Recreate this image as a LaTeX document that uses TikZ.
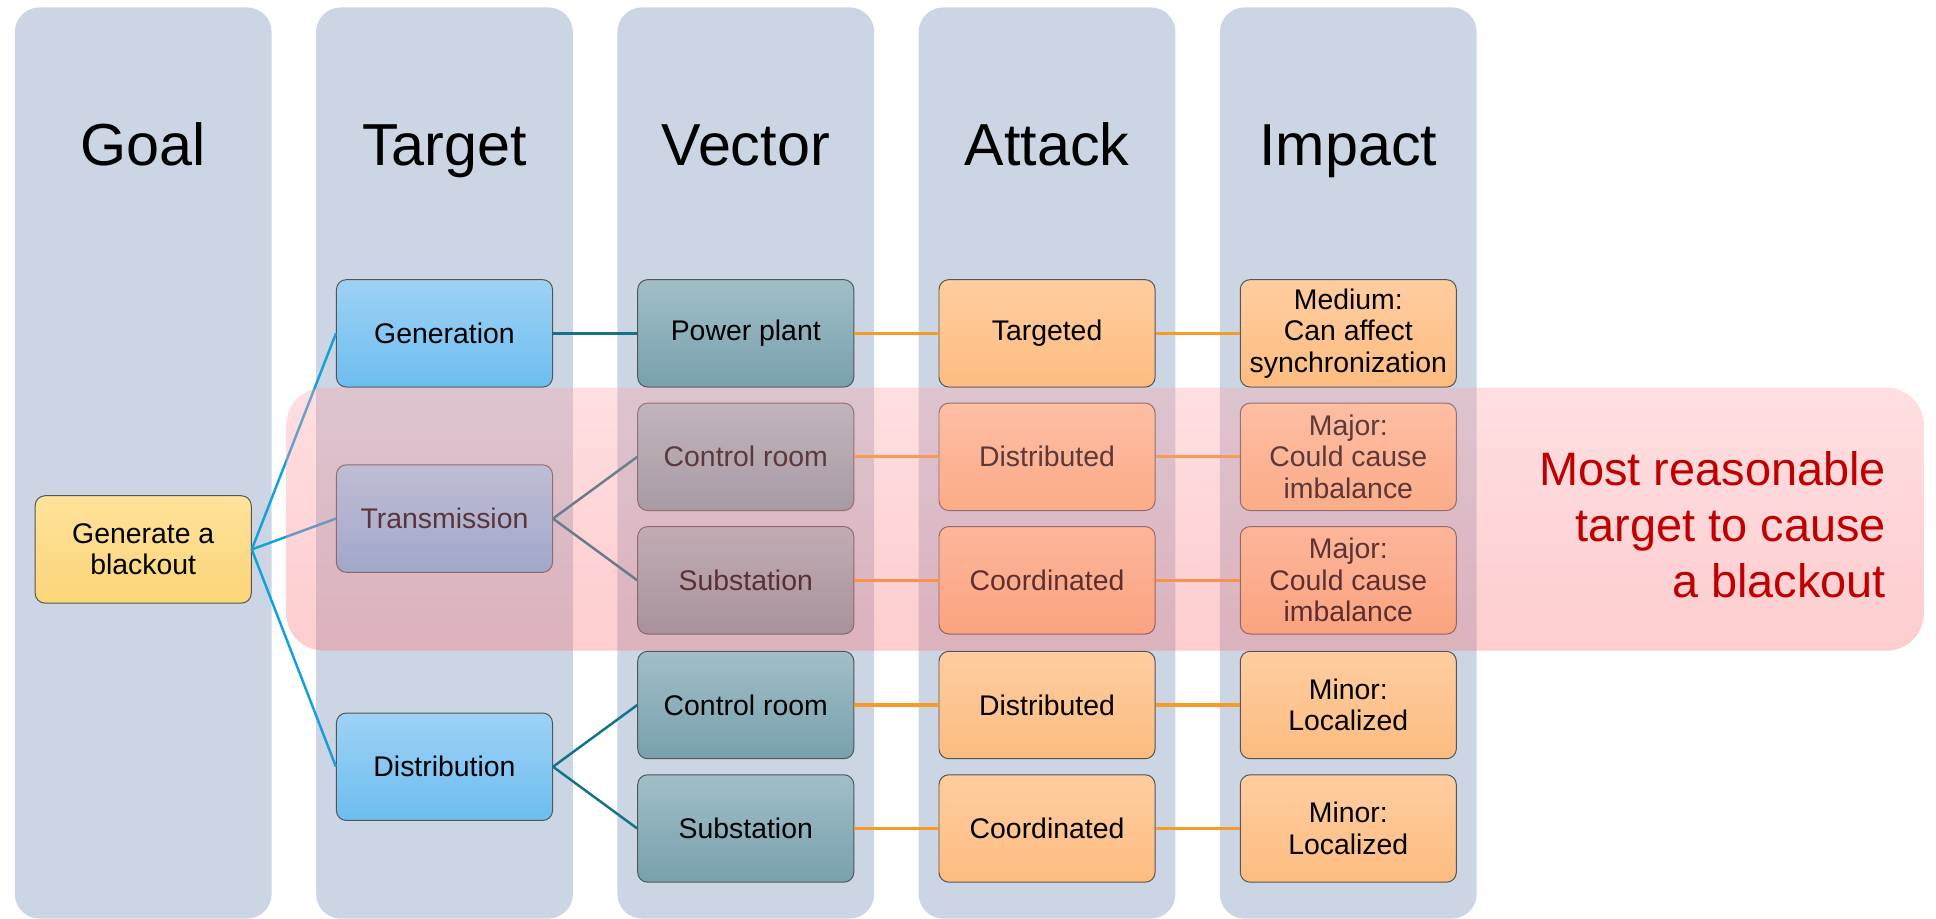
\documentclass[tikz,border=0pt]{standalone}
\usepackage{fontspec}
\setmainfont{Liberation Sans}
\definecolor{lanefill}{RGB}{203,213,227}
\definecolor{boxline}{RGB}{85,85,85}
\definecolor{goalT}{RGB}{255,226,155}
\definecolor{goalB}{RGB}{251,213,120}
\definecolor{tgtT}{RGB}{158,210,245}
\definecolor{tgtB}{RGB}{108,189,240}
\definecolor{vecT}{RGB}{160,190,200}
\definecolor{vecB}{RGB}{120,161,173}
\definecolor{attT}{RGB}{255,205,160}
\definecolor{attB}{RGB}{253,188,128}
\definecolor{linkblue}{RGB}{20,160,220}
\definecolor{linkteal}{RGB}{20,115,135}
\definecolor{linkorange}{RGB}{247,155,40}
\definecolor{hiliteT}{RGB}{252,168,174}
\definecolor{hiliteB}{RGB}{250,118,124}
\definecolor{notered}{RGB}{192,0,0}
\begin{document}
\begin{tikzpicture}[x=1pt,y=-1pt,
  lane/.style={fill=lanefill, rounded corners=20pt},
  hdr/.style={font=\fontsize{48}{56}\selectfont, anchor=base},
  box/.style={draw=boxline, line width=0.8pt, rounded corners=8pt,
    minimum width=175pt, minimum height=87pt, inner sep=1pt,
    align=center, font=\fontsize{23}{25.5}\selectfont},
  goalbox/.style={box, top color=goalT, bottom color=goalB},
  tgtbox/.style={box, top color=tgtT, bottom color=tgtB},
  vecbox/.style={box, top color=vecT, bottom color=vecB},
  attbox/.style={box, top color=attT, bottom color=attB},
  blueline/.style={draw=linkblue, line width=2pt},
  tealline/.style={draw=linkteal, line width=2pt},
  orangeline/.style={draw=linkorange, line width=2.5pt},
]
\useasboundingbox (0,0) rectangle (1568,744);

% swim lanes
\foreach \lx in {12,256,500,744,988}
  \fill[lane] (\lx,6) rectangle (\lx+208,744);

% lane headings
\node[hdr] (hgoal)   at (116,134) {Goal};
\node[hdr] (htarget) at (360,134) {Target};
\node[hdr] (hvector) at (604,134) {Vector};
\node[hdr] (hattack) at (848,134) {Attack};
\node[hdr] (himpact) at (1092,134) {Impact};

% goal
\node[goalbox] (goal) at (116,445) {Generate a\\blackout};

% targets
\node[tgtbox] (gen)   at (360,270) {Generation};
\node[tgtbox] (trans) at (360,420) {Transmission};
\node[tgtbox] (dist)  at (360,621) {Distribution};

% vectors
\node[vecbox] (v1) at (604,270) {Power plant};
\node[vecbox] (v2) at (604,370) {Control room};
\node[vecbox] (v3) at (604,470) {Substation};
\node[vecbox] (v4) at (604,571) {Control room};
\node[vecbox] (v5) at (604,671) {Substation};

% attacks
\node[attbox] (a1) at (848,270) {Targeted};
\node[attbox] (a2) at (848,370) {Distributed};
\node[attbox] (a3) at (848,470) {Coordinated};
\node[attbox] (a4) at (848,571) {Distributed};
\node[attbox] (a5) at (848,671) {Coordinated};

% impacts
\node[attbox] (i1) at (1092,270) {Medium:\\Can affect\\synchronization};
\node[attbox] (i2) at (1092,370) {Major:\\Could cause\\imbalance};
\node[attbox] (i3) at (1092,470) {Major:\\Could cause\\imbalance};
\node[attbox] (i4) at (1092,571) {Minor:\\Localized};
\node[attbox] (i5) at (1092,671) {Minor:\\Localized};

% connectors
\draw[blueline] (goal.east) -- (gen.west);
\draw[blueline] (goal.east) -- (trans.west);
\draw[blueline] (goal.east) -- (dist.west);
\draw[tealline] (gen.east) -- (v1.west);
\draw[tealline] (trans.east) -- (v2.west);
\draw[tealline] (trans.east) -- (v3.west);
\draw[tealline] (dist.east) -- (v4.west);
\draw[tealline] (dist.east) -- (v5.west);
\foreach \k in {1,...,5} {
  \draw[orangeline] (v\k.east) -- (a\k.west);
  \draw[orangeline] (a\k.east) -- (i\k.west);
}

% highlighted band (translucent, lighter at the top)
\begin{scope}[transparency group, opacity=0.37]
  \shade[top color=hiliteT, bottom color=hiliteB, rounded corners=30pt]
    (232,314) rectangle (1558,527);
\end{scope}
\node[anchor=east, align=right, text=notered,
      font=\fontsize{38}{45}\selectfont] (note) at (1531,425)
  {Most reasonable\\target to cause\\a blackout};
\end{tikzpicture}
\end{document}
